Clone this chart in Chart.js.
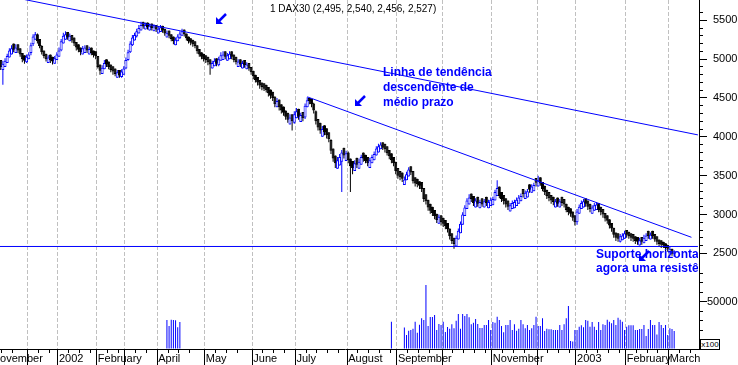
<!DOCTYPE html>
<html>
<head>
<meta charset="utf-8">
<script src="https://cdn.jsdelivr.net/npm/chart.js@4.4.1/dist/chart.umd.min.js"></script>
<style>
  html, body { margin: 0; padding: 0; background: #fff; }
  #wrap { position: relative; width: 738px; height: 365px; overflow: hidden; }
  #chart { position: absolute; left: -9px; top: 0; }
  .note { position: absolute; color: #0000ff; font: bold 12px "Liberation Sans", Arial, sans-serif; white-space: nowrap; }
  #title { position: absolute; left: 270px; top: 3px; font: 10px "Liberation Sans", Arial, sans-serif; color: #000; white-space: nowrap; }
  #x100 { position: absolute; left: 700px; top: 339px; width: 18px; height: 9px; border: 1px solid #000; font: 8px "Liberation Sans", Arial, sans-serif; line-height: 9px; text-align: center; background: #fff; }
  .arrow { position: absolute; width: 11px; height: 11px; }
</style>
</head>
<body>
<div id="wrap">
  <canvas id="chart" width="747" height="365"></canvas>
  <div id="title">1 DAX30 (2,495, 2,540, 2,456, 2,527)</div>
  <div class="note" style="left:383px; top:65px; line-height:15px;">Linha de tendência<br>descendente de<br>médio prazo</div>
  <div class="note" style="left:596px; top:248px; width:102px; overflow:hidden; line-height:13.5px;">Suporte horizontal<br>agora uma resistência</div>
  <svg class="arrow" style="left:216px; top:13px;" viewBox="0 0 11 11"><line x1="10" y1="1" x2="3" y2="8" stroke="#0000ff" stroke-width="2.5"/><polygon points="0,11 0,4 7,11" fill="#0000ff"/></svg>
  <svg class="arrow" style="left:355px; top:95px;" viewBox="0 0 11 11"><line x1="10" y1="1" x2="3" y2="8" stroke="#0000ff" stroke-width="2.5"/><polygon points="0,11 0,4 7,11" fill="#0000ff"/></svg>
  <svg class="arrow" style="left:639px; top:250px;" viewBox="0 0 11 11"><line x1="10" y1="1" x2="3" y2="8" stroke="#0000ff" stroke-width="2.5"/><polygon points="0,11 0,4 7,11" fill="#0000ff"/></svg>
  <div id="x100">x100</div>
</div>
<script>
// slot layout: one slot per trading day, PAD empty slots cover the cut-off start of November
const PAD = 4;
const SLOTS = 328;

// month boundaries (slot index of first bar of the month) and their axis labels
const monthStart = [-4, 13, 27, 45, 58, 73, 95, 117, 137, 161, 184, 205, 228, 249, 267, 290, 310];
const monthLabel = ['November', '', '2002', 'February', '', 'April', 'May', 'June', 'July', 'August', 'September', '', 'November', '', '2003', 'February', 'March'];

// DAX30 daily candles, slot 0 = first visible bar
const openP = [
  4990,4860,4900,4950,5020,5060,5200,5080,5190,5140,
  5080,5050,4960,5000,5080,5190,5250,5320,5260,5170,
  5110,5070,4950,5060,5030,4940,4990,5030,5110,5200,
  5250,5350,5230,5310,5280,5220,5190,5150,5060,5080,
  5180,5060,5150,5110,5100,5040,4930,4810,4870,5000,
  4970,4930,4910,4880,4760,4860,4770,4800,4880,4990,
  5090,5180,5240,5290,5330,5370,5480,5380,5470,5370,
  5460,5360,5440,5330,5350,5430,5390,5280,5370,5320,
  5290,5180,5230,5270,5300,5380,5330,5290,5270,5250,
  5230,5180,5130,5090,5070,5050,5030,5000,4880,4910,
  5010,4920,4980,4990,5100,4980,5000,5100,5060,5030,
  4900,5000,4880,4990,4870,4950,4900,4850,4800,4770,
  4730,4700,4690,4670,4640,4610,4580,4520,4380,4480,
  4420,4390,4340,4310,4160,4290,4180,4240,4360,4190,
  4320,4250,4380,4500,4490,4430,4330,4230,4180,4000,
  4150,4110,4060,3960,3850,3760,3590,3630,3680,3860,
  3690,3800,3720,3690,3560,3730,3590,3640,3800,3770,
  3740,3600,3660,3700,3760,3800,3840,3930,3910,3880,
  3830,3790,3740,3680,3600,3560,3540,3380,3440,3490,
  3620,3560,3480,3460,3430,3420,3340,3260,3190,3140,
  3100,3060,3010,2880,2990,2960,2930,2890,2820,2760,
  2700,2590,2680,2760,2870,2980,3070,3130,3270,3240,
  3090,3230,3080,3210,3090,3230,3080,3110,3120,3180,
  3240,3360,3290,3250,3210,3180,3040,3070,3080,3110,
  3140,3170,3330,3200,3220,3390,3280,3300,3470,3360,
  3480,3420,3370,3320,3290,3250,3230,3090,3220,3090,
  3230,3200,3140,3100,3080,3040,2990,2900,3010,3070,
  3090,3210,3180,3140,3010,3050,3060,3150,3100,3070,
  3020,2990,2940,2890,2830,2770,2760,2650,2670,2690,
  2800,2780,2760,2750,2720,2710,2600,2710,2630,2660,
  2790,2680,2790,2750,2720,2680,2670,2650,2630,2610,
  2500,2560,2495
];
const highP = [
  4990,4980,5010,5070,5140,5180,5170,5190,5180,5120,
  5070,5030,5060,5090,5210,5320,5350,5330,5260,5180,
  5110,5060,5050,5050,5020,5040,5090,5150,5260,5340,
  5360,5350,5330,5310,5270,5210,5180,5140,5170,5180,
  5180,5160,5150,5100,5080,5040,4930,4920,4990,4980,
  4950,4920,4880,4870,4860,4850,4870,4910,5020,5120,
  5230,5310,5340,5390,5440,5480,5470,5470,5470,5460,
  5450,5450,5440,5420,5440,5430,5390,5370,5360,5320,
  5280,5280,5320,5360,5390,5380,5330,5290,5250,5240,
  5210,5180,5130,5080,5060,5030,5010,4990,4980,5010,
  5000,5030,5090,5100,5090,5080,5100,5090,5040,5010,
  5000,4990,4980,4970,4960,4950,4900,4840,4800,4750,
  4730,4690,4670,4640,4620,4580,4550,4520,4500,4480,
  4400,4370,4320,4280,4290,4270,4330,4370,4350,4310,
  4300,4430,4510,4490,4480,4440,4340,4220,4150,4140,
  4130,4080,4040,3970,3840,3740,3740,3780,3830,3830,
  3820,3810,3710,3650,3700,3690,3720,3770,3770,3740,
  3720,3730,3770,3810,3880,3910,3930,3920,3880,3860,
  3800,3770,3710,3680,3580,3530,3510,3490,3550,3610,
  3600,3550,3460,3430,3410,3390,3330,3230,3180,3120,
  3070,3040,2990,3000,2990,2930,2900,2870,2810,2740,
  2680,2730,2820,2910,3030,3120,3210,3260,3250,3220,
  3210,3200,3190,3180,3200,3190,3190,3220,3230,3320,
  3440,3360,3250,3230,3180,3150,3150,3180,3190,3220,
  3250,3270,3290,3310,3330,3350,3390,3410,3440,3500,
  3470,3410,3350,3300,3260,3230,3210,3200,3190,3200,
  3200,3170,3140,3080,3050,3030,2970,3070,3130,3180,
  3200,3190,3150,3120,3120,3150,3160,3150,3080,3050,
  3010,2970,2930,2880,2820,2760,2730,2750,2760,2790,
  2780,2760,2740,2720,2700,2690,2700,2690,2740,2760,
  2760,2770,2760,2730,2700,2670,2650,2640,2610,2600,
  2590,2560,2540
];
const lowP = [
  4860,4670,4920,4970,5020,5080,5090,5100,5080,5030,
  4960,4940,4950,5010,5050,5170,5260,5200,5140,5060,
  5010,4970,4960,4950,4930,4940,5000,5030,5100,5200,
  5280,5250,5240,5210,5170,5110,5090,5050,5060,5110,
  5080,5080,5050,5020,5000,4880,4800,4810,4880,4900,
  4870,4830,4800,4780,4770,4760,4760,4830,4870,4980,
  5080,5170,5260,5280,5350,5370,5390,5390,5380,5380,
  5370,5370,5350,5340,5370,5340,5300,5290,5270,5230,
  5190,5200,5240,5260,5310,5290,5240,5200,5180,5160,
  5140,5070,5030,5000,4970,4950,4920,4800,4890,4930,
  4910,4910,4990,5020,5000,5000,5030,5000,4960,4930,
  4930,4900,4900,4890,4880,4850,4800,4740,4700,4660,
  4620,4600,4590,4570,4520,4490,4460,4380,4380,4340,
  4300,4270,4220,4180,4190,4080,4170,4270,4220,4220,
  4200,4230,4390,4420,4380,4300,4160,4080,4040,4030,
  4020,3980,3930,3780,3680,3600,3610,3670,3290,3720,
  3720,3660,3290,3520,3570,3600,3610,3660,3680,3660,
  3620,3630,3680,3720,3770,3820,3860,3830,3800,3760,
  3710,3660,3620,3520,3460,3440,3420,3400,3440,3500,
  3510,3400,3360,3350,3330,3290,3160,3130,3050,3010,
  2980,2940,2890,2900,2860,2840,2810,2770,2680,2620,
  2560,2590,2690,2760,2870,2990,3080,3150,3160,3110,
  3120,3100,3110,3100,3100,3110,3120,3130,3160,3190,
  3260,3210,3160,3130,3090,3060,3070,3100,3110,3150,
  3160,3200,3220,3240,3260,3280,3300,3340,3360,3390,
  3370,3300,3250,3200,3170,3140,3120,3120,3100,3110,
  3110,3090,3030,2990,2970,2920,2860,2870,3020,3070,
  3130,3100,3060,3030,3040,3070,3090,3030,2990,2960,
  2910,2880,2820,2780,2700,2660,2650,2640,2690,2710,
  2700,2690,2660,2650,2620,2610,2620,2610,2640,2670,
  2690,2690,2690,2650,2610,2590,2570,2570,2530,2520,
  2500,2470,2456
];
const closeP = [
  4900,4940,4980,5040,5110,5140,5120,5150,5110,5060,
  5000,4980,5030,5060,5180,5290,5320,5230,5170,5090,
  5040,5000,5020,4990,4970,5010,5060,5110,5230,5300,
  5320,5280,5300,5240,5200,5150,5120,5090,5140,5150,
  5110,5130,5080,5050,5040,4900,4850,4890,4950,4930,
  4900,4860,4840,4810,4830,4790,4840,4880,4990,5090,
  5200,5280,5310,5360,5400,5440,5420,5440,5410,5430,
  5400,5420,5380,5390,5410,5370,5330,5340,5300,5260,
  5230,5250,5290,5330,5360,5320,5270,5230,5210,5190,
  5170,5100,5060,5030,5000,4990,4960,4930,4950,4980,
  4940,5000,5050,5060,5030,5050,5070,5030,4990,4960,
  4970,4930,4950,4920,4930,4880,4830,4780,4730,4700,
  4660,4640,4620,4600,4560,4530,4500,4420,4460,4380,
  4340,4310,4260,4220,4250,4200,4290,4330,4260,4280,
  4240,4400,4470,4460,4420,4340,4200,4120,4080,4100,
  4060,4020,3970,3820,3720,3660,3700,3740,3800,3760,
  3790,3700,3620,3600,3660,3640,3680,3740,3720,3690,
  3660,3700,3740,3780,3850,3880,3900,3860,3840,3790,
  3750,3700,3660,3560,3500,3480,3460,3450,3520,3580,
  3540,3430,3400,3390,3370,3330,3200,3170,3090,3050,
  3020,2980,2930,2970,2900,2880,2850,2810,2720,2660,
  2620,2700,2790,2880,3000,3090,3180,3220,3200,3150,
  3180,3140,3160,3130,3170,3150,3160,3190,3200,3290,
  3340,3240,3200,3170,3130,3100,3120,3150,3160,3190,
  3220,3240,3260,3280,3300,3320,3360,3380,3410,3440,
  3400,3330,3290,3240,3210,3180,3160,3170,3140,3170,
  3150,3130,3060,3030,3010,2960,2900,3040,3100,3150,
  3170,3140,3100,3070,3090,3120,3130,3060,3030,3000,
  2950,2920,2860,2820,2740,2700,2690,2720,2730,2760,
  2740,2720,2700,2690,2660,2650,2670,2650,2700,2730,
  2720,2740,2720,2680,2650,2620,2610,2600,2570,2560,
  2560,2495,2527
];

// volume (x100), only partly available in the source
const volAprilStart = 77;
const volApril = [30600, 24300, 30800, 30700, 30500, 23000, 28500];
const volAugStart = 181;
const volAug = [28900];
const volLateStart = 187;
const volLate = [
  22600,14800,19400,20100,21500,28900,17300,25700,32400,30700,
  67700,24300,33800,33800,35900,20100,26400,25400,28900,18000,
  23300,21500,26100,21800,29900,37000,21500,37000,34900,37000,
  33500,26100,27800,31700,26400,22200,22200,25400,25400,30700,
  20100,28500,27800,34200,30700,24300,17600,25400,25400,30700,
  20100,26100,19400,21500,30700,26100,21800,25400,20100,21800,
  25400,34200,24300,24300,32400,19000,21500,20800,20800,20100,
  20100,20100,25400,20100,26100,32400,45500,8500,7800,20100,
  20100,23600,25000,22900,30700,29900,23600,28500,23600,20100,
  28500,20100,26100,25400,31000,28900,27100,30700,25400,33100,
  31000,28900,20100,23600,25000,25000,25000,20100,20100,21100,
  21100,25400,13700,21100,30700,25400,25400,15200,28500,25400,
  22200,25400,14800,21800,21100,19000
];
const volTicks = [0, 10000, 20000, 30000, 40000, 50000, 60000, 70000, 80000];

// drawn lines: [slot, price]
const longTrend = [[-4, 5851], [323, 4025]];
const midTrend = [[142, 4515], [320, 2707]];
const supportLine = [[-4, 2589], [323, 2589]];

const BLUE = '#0000ff';
const idx = (s) => s + PAD;

const labels = Array.from({ length: SLOTS }, (_, i) => String(i - PAD));
const labelAt = {};
const isMonth = {};
monthStart.forEach((s, m) => { labelAt[idx(s)] = monthLabel[m]; isMonth[idx(s)] = true; });

// weekly minor tick marks inside each month
const weekSlots = [];
monthStart.forEach((s, m) => {
  const end = m + 1 < monthStart.length ? monthStart[m + 1] : SLOTS - PAD;
  for (let w = s + 5; w < end - 2; w += 5) weekSlots.push(w);
});

function lineData(pts) {
  const d = new Array(SLOTS).fill(null);
  pts.forEach(([s, v]) => { d[idx(s)] = v; });
  return d;
}

const wickData = new Array(SLOTS).fill(null);
const bodyData = new Array(SLOTS).fill(null);
const wickColor = new Array(SLOTS).fill(BLUE);
const bodyFill = new Array(SLOTS).fill('#fff');
closeP.forEach((c, i) => {
  const o = openP[i];
  const k = idx(i);
  const up = c >= o;
  wickData[k] = [Math.min(lowP[i], o, c), Math.max(highP[i], o, c)];
  bodyData[k] = [o, c];
  wickColor[k] = up ? BLUE : '#000';
  bodyFill[k] = up ? '#fff' : '#000';
});

const volData = new Array(SLOTS).fill(null);
[[volAprilStart, volApril], [volAugStart, volAug], [volLateStart, volLate]].forEach(([start, vals]) => {
  vals.forEach((v, j) => { volData[idx(start + j)] = v; });
});

// short minor ticks on both axes
const minorTicks = {
  id: 'minorTicks',
  afterDraw(chart) {
    const { ctx, scales: { x, y, yv } } = chart;
    const half = (x.getPixelForValue(1) - x.getPixelForValue(0)) / 2;
    ctx.save();
    ctx.strokeStyle = '#000';
    ctx.lineWidth = 1;
    ctx.beginPath();
    weekSlots.forEach((s) => {
      const px = Math.round(x.getPixelForValue(idx(s)) - half - 0.5) + 0.5;
      ctx.moveTo(px, x.top);
      ctx.lineTo(px, x.top + 4);
    });
    y.ticks.forEach((t) => {
      if (t.value % 100 === 0 && t.value % 500 !== 0) {
        const py = Math.round(y.getPixelForValue(t.value) - 0.5) + 0.5;
        ctx.moveTo(y.left, py);
        ctx.lineTo(y.left + 4, py);
      }
    });
    yv.ticks.forEach((t) => {
      if (t.value > 0 && t.value !== 50000) {
        const py = Math.round(yv.getPixelForValue(t.value) - 0.5) + 0.5;
        ctx.moveTo(yv.left, py);
        ctx.lineTo(yv.left + 4, py);
      }
    });
    ctx.stroke();
    ctx.restore();
  }
};

function noPadding(scale) {
  scale.paddingTop = 0;
  scale.paddingBottom = 0;
  scale.paddingLeft = 0;
  scale.paddingRight = 0;
}

Chart.defaults.font.family = '"Liberation Sans", Arial, sans-serif';
Chart.defaults.font.size = 11;
Chart.defaults.color = '#000';

new Chart(document.getElementById('chart'), {
  type: 'bar',
  data: {
    labels: labels,
    datasets: [
      { type: 'line', data: lineData(longTrend), borderColor: BLUE, borderWidth: 1, pointRadius: 0, spanGaps: true, yAxisID: 'y' },
      { type: 'line', data: lineData(midTrend), borderColor: BLUE, borderWidth: 1, pointRadius: 0, spanGaps: true, yAxisID: 'y' },
      { type: 'line', data: lineData(supportLine), borderColor: BLUE, borderWidth: 1, pointRadius: 0, spanGaps: true, yAxisID: 'y' },
      {
        data: bodyData, yAxisID: 'y', grouped: false, barThickness: 3, minBarLength: 1,
        backgroundColor: bodyFill, borderColor: wickColor, borderWidth: 1, borderSkipped: false, inflateAmount: 0,
      },
      {
        data: wickData, yAxisID: 'y', grouped: false, barThickness: 1,
        backgroundColor: wickColor, borderWidth: 0, inflateAmount: 0,
      },
      {
        data: volData, yAxisID: 'yv', grouped: false, barThickness: 1,
        backgroundColor: BLUE, borderWidth: 0, inflateAmount: 0,
      },
    ],
  },
  options: {
    responsive: false,
    animation: false,
    events: [],
    layout: { padding: 0 },
    plugins: { legend: { display: false }, tooltip: { enabled: false } },
    scales: {
      x: {
        grid: {
          offset: true,
          color: (c) => (isMonth[c.index] ? '#c0c0c0' : 'transparent'),
          tickColor: (c) => (isMonth[c.index] ? '#000' : 'transparent'),
          tickLength: 16,
        },
        border: { color: '#000', dash: [4, 2] },
        ticks: {
          autoSkip: false, maxRotation: 0, minRotation: 0, align: 'start', padding: -13,
          callback: (v, i) => labelAt[i] || '',
        },
        afterFit: (s) => { s.height = 16; noPadding(s); },
      },
      y: {
        position: 'right', stack: 'right', stackWeight: 268,
        min: 2312, max: 5761,
        grid: {
          drawOnChartArea: false, tickLength: 8,
          tickColor: (c) => (c.tick && c.tick.value % 500 === 0 ? '#000' : 'transparent'),
        },
        border: { color: '#000' },
        ticks: {
          stepSize: 100, autoSkip: false, padding: 6,
          callback: (v) => (v % 500 === 0 ? String(v) : ''),
        },
        afterFit: (s) => { s.width = 39; noPadding(s); },
      },
      yv: {
        position: 'right', stack: 'right', stackWeight: 81,
        min: 0, max: 85600,
        grid: {
          drawOnChartArea: false, tickLength: 8,
          tickColor: (c) => (c.tick && c.tick.value === 50000 ? '#000' : 'transparent'),
        },
        border: { color: '#000' },
        ticks: {
          autoSkip: false, padding: 0,
          callback: (v) => (v === 50000 ? '50000' : ''),
        },
        afterBuildTicks: (s) => { s.ticks = volTicks.map((v) => ({ value: v })); },
        afterFit: (s) => { s.width = 39; noPadding(s); },
      },
    },
  },
  plugins: [minorTicks],
});
</script>
</body>
</html>
